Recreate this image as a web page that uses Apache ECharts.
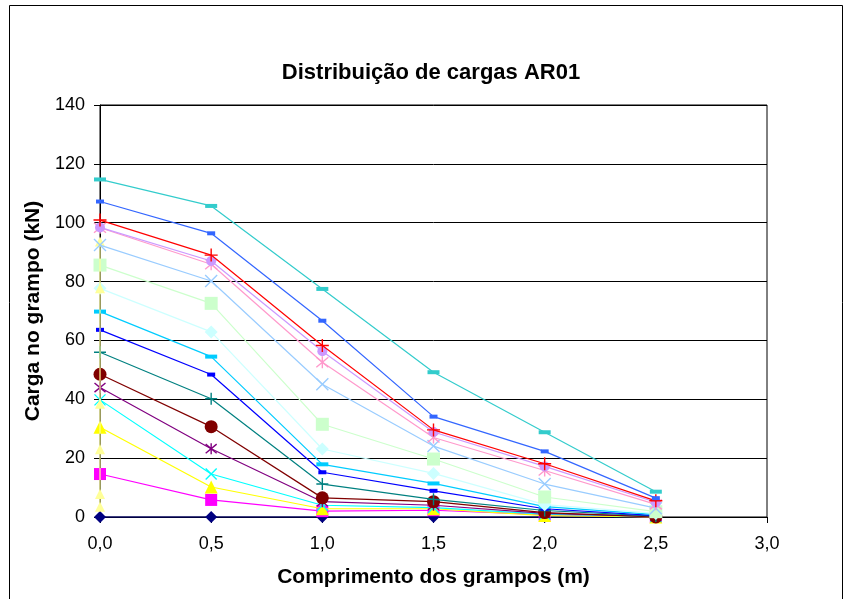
<!DOCTYPE html>
<html>
<head>
<meta charset="utf-8">
<title>Distribuição de cargas AR01</title>
<script src="https://cdn.jsdelivr.net/npm/echarts@6/dist/echarts.min.js"></script>
<style>
  html, body { margin: 0; padding: 0; background: #ffffff; }
  #chart { width: 848px; height: 599px; }
</style>
</head>
<body>
<div id="chart"></div>
<script>
// Distances along the clamp (m)
const comprimentos = [0, 0.5, 1.0, 1.5, 2.0, 2.5];
// Series plotted entirely at the clamp head
const comprimentosZero = [0, 0, 0, 0, 0, 0];

// Load in the clamp (kN) for each load stage
const serie01 = [0, 0, 0, 0, 0, 0];
const serie02 = [14.6, 5.8, 2.0, 2.3, 0.8, 0];
const serie03 = [30.5, 10.2, 2.8, 2.8, 0.5, 0];
const serie04 = [39.8, 14.6, 4.0, 3.2, 1.0, 0.2];
const serie05 = [44.0, 23.2, 5.2, 4.0, 1.2, 0.2];
const serie06 = [48.5, 30.7, 6.5, 5.2, 1.5, 0];
const serie07 = [56.0, 40.2, 11.2, 6.0, 2.2, 0.3];
const serie08 = [63.6, 48.4, 15.2, 8.9, 2.8, 0.5];
const serie09 = [69.8, 54.5, 17.9, 11.4, 3.5, 0.8];
const serie10 = [77.7, 62.9, 23.1, 14.8, 4.2, 1.2];
const serie11 = [85.6, 72.6, 31.5, 19.7, 6.8, 1.8];
const serie12 = [93.6, 77.7, 38.5, 23.0, 7.8, 3.5];
const serie13 = [92.4, 80.2, 45.1, 24.1, 11.2, 3.0];
const serie14 = [98.3, 85.9, 52.6, 27.0, 15.8, 4.3];
const serie15 = [98.4, 87.0, 56.3, 28.9, 17.2, 5.0];
const serie16 = [100.9, 89.0, 58.3, 29.6, 18.1, 5.5];
const serie17 = [107.2, 96.4, 66.7, 34.1, 22.3, 6.4];
const serie18 = [114.7, 105.7, 77.5, 49.2, 28.8, 8.6];

// Axis ticks
const xTicks = { min: 0, max: 3.0, step: 0.5 };
const yTicks = { min: 0, max: 140, step: 20 };

// Marker shapes
const SYM_X = 'path://M0,0L10,10M10,0L0,10';
const SYM_STAR = 'path://M0,0L10,10M10,0L0,10M5,-1L5,11';
const SYM_PLUS = 'path://M5,0L5,10M0,5L10,5';

const estilos = [
  { y: serie01, x: comprimentos, cor: '#000080', sym: 'diamond', size: 12 },
  { y: serie02, x: comprimentos, cor: '#FF00FF', sym: 'rect', size: 12 },
  { y: serie03, x: comprimentos, cor: '#FFFF00', sym: 'triangle', size: 13 },
  { y: serie04, x: comprimentos, cor: '#00FFFF', sym: SYM_X, size: 11, stroke: true },
  { y: serie05, x: comprimentos, cor: '#800080', sym: SYM_STAR, size: 11, stroke: true },
  { y: serie06, x: comprimentos, cor: '#800000', sym: 'circle', size: 13 },
  { y: serie07, x: comprimentos, cor: '#008080', sym: SYM_PLUS, size: 12, stroke: true },
  { y: serie08, x: comprimentos, cor: '#0000FF', sym: 'rect', size: [8, 4] },
  { y: serie09, x: comprimentos, cor: '#00CCFF', sym: 'rect', size: [12, 4] },
  { y: serie10, x: comprimentos, cor: '#CCFFFF', sym: 'diamond', size: 13 },
  { y: serie11, x: comprimentos, cor: '#CCFFCC', sym: 'rect', size: 13 },
  { y: serie12, x: comprimentosZero, cor: '#FFFF99', sym: 'triangle', size: 10 },
  { y: serie13, x: comprimentos, cor: '#99CCFF', sym: SYM_X, size: 12, stroke: true },
  { y: serie14, x: comprimentos, cor: '#FF99CC', sym: SYM_STAR, size: 12, stroke: true },
  { y: serie15, x: comprimentos, cor: '#CC99FF', sym: 'circle', size: 10 },
  { y: serie16, x: comprimentos, cor: '#FF0000', sym: SYM_PLUS, size: 13, stroke: true },
  { y: serie17, x: comprimentos, cor: '#3366FF', sym: 'rect', size: [8, 4] },
  { y: serie18, x: comprimentos, cor: '#33CCCC', sym: 'rect', size: [12, 4] }
];

const FONTE = '"Liberation Sans", Arial, sans-serif';

const series = estilos.map((e, i) => ({
  name: 'Série ' + (i + 1),
  type: 'line',
  data: e.y.map((v, k) => [e.x[k], v]),
  symbol: e.sym,
  symbolSize: e.size,
  showSymbol: true,
  clip: false,
  lineStyle: { color: e.cor, width: 1.2 },
  itemStyle: e.stroke
    ? { color: e.cor, borderColor: e.cor, borderWidth: 1.4 }
    : { color: e.cor, borderWidth: 0 },
  emphasis: { disabled: true },
  z: 2 + i
}));

const chart = echarts.init(document.getElementById('chart'), null, { renderer: 'canvas' });
chart.setOption({
  animation: false,
  backgroundColor: '#ffffff',
  grid: {
    left: 100, right: 81, top: 105, bottom: 82,
    show: true, borderColor: '#000000', borderWidth: 1, backgroundColor: 'transparent'
  },
  graphic: [
    {
      type: 'rect',
      shape: { x: 9.5, y: 5.5, width: 833, height: 620 },
      style: { fill: 'none', stroke: '#000000', lineWidth: 1 },
      silent: true, z: 0
    },
    {
      type: 'text',
      x: 431,
      y: 73,
      style: {
        text: 'Distribuição de cargas AR01',
        font: 'bold 22px ' + FONTE,
        fill: '#000000',
        align: 'center',
        verticalAlign: 'middle'
      }
    }
  ],
  xAxis: {
    type: 'value',
    min: xTicks.min, max: xTicks.max, interval: xTicks.step,
    name: 'Comprimento dos grampos (m)',
    nameLocation: 'middle',
    nameGap: 50,
    nameTextStyle: { fontFamily: FONTE, fontWeight: 'bold', fontSize: 21, color: '#000000' },
    axisLine: { show: true, lineStyle: { color: '#000000', width: 1 } },
    axisTick: { show: true, inside: false, length: 6, lineStyle: { color: '#000000' } },
    axisLabel: {
      margin: 18,
      fontFamily: FONTE, fontSize: 18, color: '#000000',
      formatter: v => v.toFixed(1).replace('.', ',')
    },
    splitLine: { show: false }
  },
  yAxis: {
    type: 'value',
    min: yTicks.min, max: yTicks.max, interval: yTicks.step,
    name: 'Carga no grampo (kN)',
    nameLocation: 'middle',
    nameGap: 46,
    nameTextStyle: { fontFamily: FONTE, fontWeight: 'bold', fontSize: 21, color: '#000000' },
    axisLine: { show: true, lineStyle: { color: '#000000', width: 1 } },
    axisTick: { show: true, inside: false, length: 6, lineStyle: { color: '#000000' } },
    axisLabel: { margin: 15, fontFamily: FONTE, fontSize: 18, color: '#000000' },
    splitLine: { show: true, lineStyle: { color: '#000000', width: 1 } }
  },
  series: series
});
</script>
</body>
</html>
